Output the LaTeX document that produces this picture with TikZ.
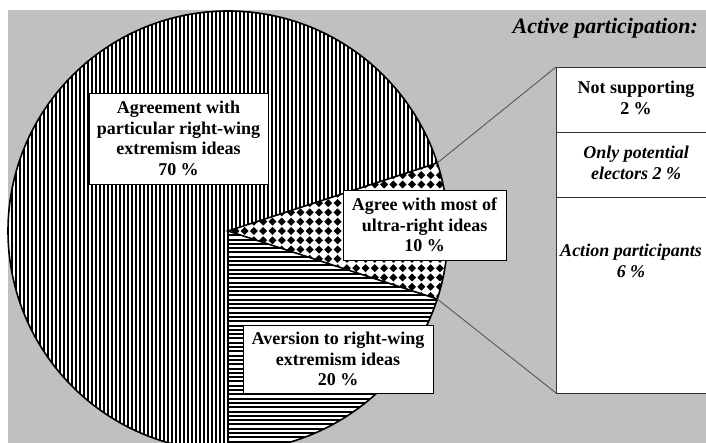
\documentclass[tikz,border=0pt]{standalone}
\usepackage{fontspec}
\setmainfont{Liberation Serif}
\definecolor{bggray}{RGB}{192,192,192}
\begin{document}
\begin{tikzpicture}[x=1pt,y=1pt,
  lbl/.style={draw=black, fill=white, line width=0.8pt, align=center,
    font=\bfseries\fontsize{18}{20.7}\selectfont, inner sep=0pt},
  rbox/.style={draw=black!80, fill=white, line width=0.8pt, minimum width=160pt,
    anchor=north west, inner sep=0pt, outer sep=0pt},
  rtxt/.style={align=center, font=\bfseries\fontsize{18}{21}\selectfont, inner sep=0pt},
  ittxt/.style={rtxt, font=\bfseries\itshape\fontsize{18}{21}\selectfont},
  conn/.style={draw=black!70, line width=0.8pt},
  vhatch/.style={line width=1.1pt},
  hhatch/.style={line width=2pt},
  edge/.style={line width=1.6pt}]
\useasboundingbox (0,0) rectangle (706,443);
\clip (0,0) rectangle (706,443);
\fill[white] (0,0) rectangle (706,443);
\fill[bggray] (8,0) rectangle (706,433);
\coordinate (C) at (228,212);
\path (C) ++(18:220pt) coordinate (P1);
\path (C) ++(-18:220pt) coordinate (P2);
\path (C) ++(-90:220pt) coordinate (P3);
\fill[white] (C) circle[radius=220pt];
% 70 % slice: vertical lines
\begin{scope}
  \clip (C) -- (P1) arc[start angle=18,end angle=270,radius=220pt] -- cycle;
  \foreach \i in {0,...,110} {
    \draw[vhatch] (8+4*\i,-10) -- (8+4*\i,440);
  }
\end{scope}
% 20 % slice: horizontal lines
\begin{scope}
  \clip (C) -- (P3) arc[start angle=-90,end angle=-18,radius=220pt] -- cycle;
  \foreach \i in {0,...,55} {
    \draw[hhatch] (220,212-4.3*\i) -- (450,212-4.3*\i);
  }
\end{scope}
% 10 % slice: solid diamonds
\begin{scope}
  \clip (C) -- (P2) arc[start angle=-18,end angle=18,radius=220pt] -- cycle;
  \foreach \i in {0,...,25} {
    \foreach \j in {-8,...,8} {
      \fill ({226+9.3*\i},{212+9.3*\j}) ++(0,-4) -- ++(4,4) -- ++(-4,4) -- ++(-4,-4) -- cycle;
    }
  }
\end{scope}
\draw[edge] (C) circle[radius=220pt];
\draw[edge] (P1) -- (C) -- (P2);
\draw[edge] (C) -- (P3);

\node[lbl, minimum width=179pt, minimum height=91pt] (l70) at (178.5,304.5)
  {Agreement with\\particular right-wing\\extremism ideas\\70 \%};
\node[lbl, minimum width=163pt, minimum height=70pt] (l10) at (424.5,218)
  {Agree with most of\\ultra-right ideas\\10 \%};
\node[lbl, minimum width=190pt, minimum height=68pt] (l20) at (338,84)
  {Aversion to right-wing\\extremism ideas\\20 \%};

\node[rbox, minimum height=65pt] (r1) at (556,376) {};
\node[rbox, minimum height=65pt] (r2) at (556,311) {};
\node[rbox, minimum height=196pt] (r3) at (556,246) {};
\node[rtxt] (t1) at (636,345.5) {Not supporting\\2 \%};
\node[ittxt] (t2) at (636,280) {Only potential\\electors 2 \%};
\node[ittxt] (t3) at (631,182) {Action participants\\6 \%};

\node[anchor=east, inner sep=0pt, font=\bfseries\itshape\fontsize{22}{26}\selectfont] (title) at (698,415) {Active participation:};

\draw[conn] (P1) -- (r1.north west);
\draw[conn] (P2) -- (r3.south west);
\end{tikzpicture}
\end{document}
